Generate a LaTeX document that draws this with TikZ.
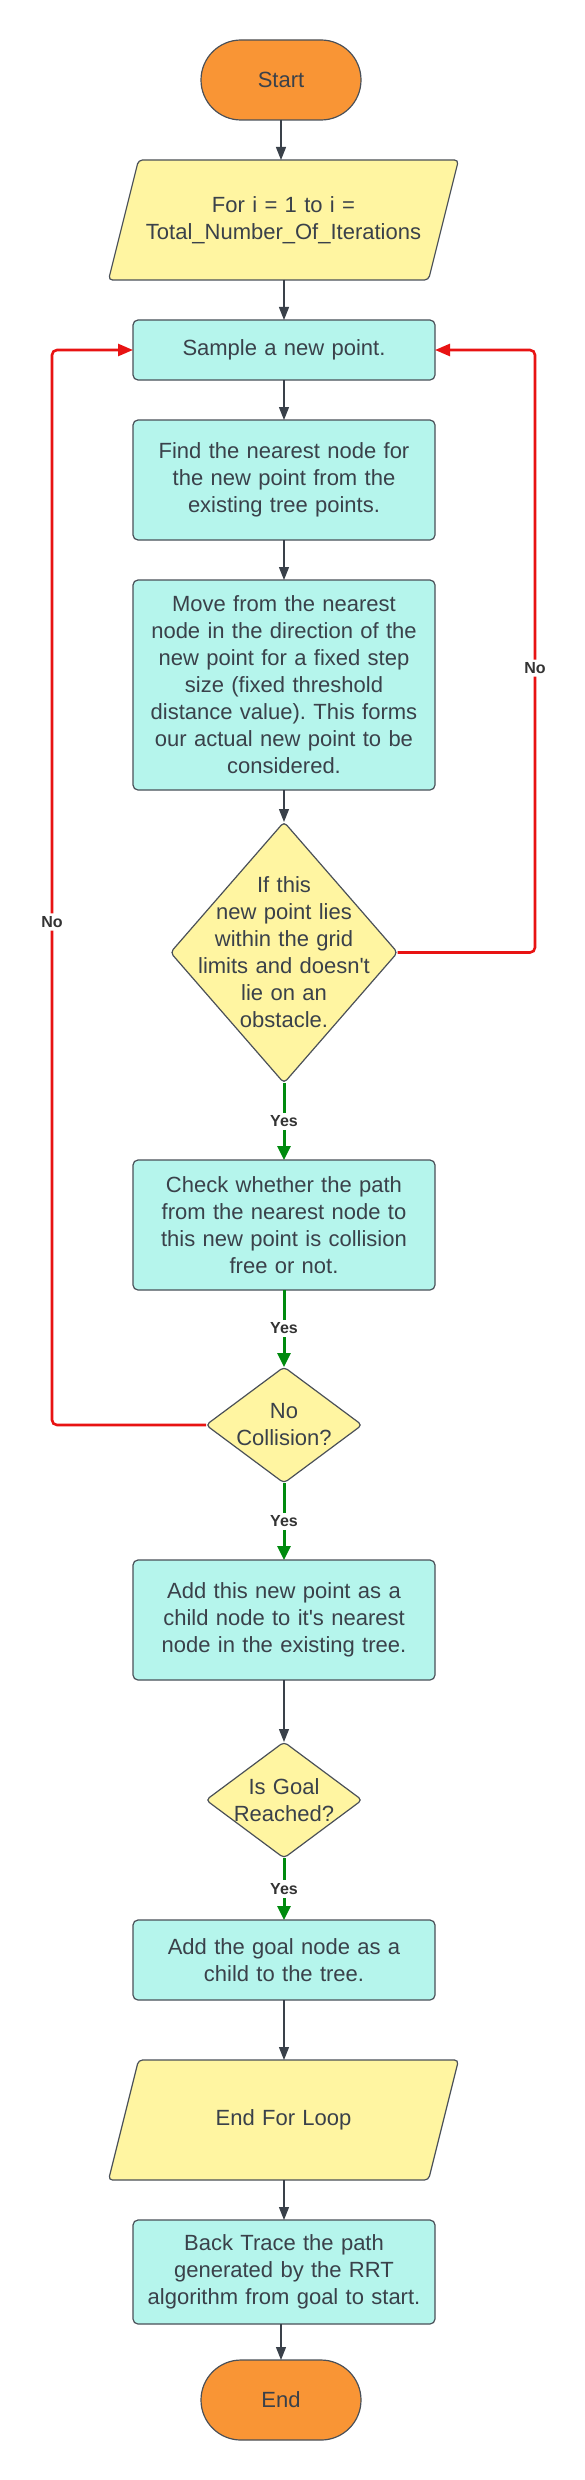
\documentclass[tikz,border=0pt]{standalone}
\usepackage{fontspec}
\setmainfont{Liberation Sans}
\usetikzlibrary{arrows.meta,backgrounds}
\frenchspacing
\definecolor{orangef}{HTML}{F99535}
\definecolor{yellowf}{HTML}{FFF5A1}
\definecolor{cyanf}{HTML}{B5F5EC}
\definecolor{bord}{HTML}{4A5058}
\definecolor{conn}{HTML}{3A414A}
\definecolor{txt}{HTML}{3A414A}
\definecolor{lbl}{HTML}{333333}
\definecolor{redl}{HTML}{E81313}
\definecolor{greenl}{HTML}{008A0E}
\begin{document}
\begin{tikzpicture}[x=1pt,y=-1pt,
  base/.style={font=\fontsize{22pt}{27pt}\selectfont, text=txt, align=center, inner sep=0pt, outer sep=0pt},
  term/.style={base, rectangle, draw=bord, fill=orangef, line width=1.2pt, rounded corners=40pt, minimum width=160pt, minimum height=80pt},
  procbox/.style={base, rectangle, draw=bord, fill=cyanf, line width=1.2pt, rounded corners=5pt, minimum width=302pt, text width=290pt},
  parabox/.style={base, rectangle, minimum width=320pt, minimum height=120pt, text width=300pt},
  decbox/.style={base, rectangle, text width=#1},
  outline/.style={draw=bord, line width=1.2pt, fill=#1, rounded corners=4pt},
  flow/.style={draw=conn, line width=1.3pt, -{Triangle[length=13pt,width=10pt]}},
  yesflow/.style={draw=greenl, line width=3pt, -{Triangle[length=14pt,width=13pt]}},
  noflow/.style={draw=redl, line width=2.6pt, rounded corners=5pt, -{Triangle[length=15pt,width=12pt]}},
  lab/.style={font=\fontsize{16pt}{19pt}\selectfont\bfseries, text=lbl, fill=white, inner sep=3pt}
]
\begin{scope}[on background layer]
  \fill[white] (0,0) rectangle (584,2480);
\end{scope}
\useasboundingbox (0,0) rectangle (584,2480);

% nodes
\node[term] (start) at (281,80) {Start};
\node[parabox] (for) at (283.5,220) {For i = 1 to i =\\Total\_Number\_Of\_Iterations};
\node[procbox, minimum height=60pt] (sample) at (284,350) {Sample a new point.};
\node[procbox, minimum height=120pt] (find) at (284,480) {Find the nearest node for\\the new point from the\\existing tree points.};
\node[procbox, minimum height=210pt] (move) at (284,685) {Move from the nearest\\node in the direction of the\\new point for a fixed step\\size (fixed threshold\\distance value). This forms\\our actual new point to be\\considered.};
\node[decbox=200pt, minimum width=227pt, minimum height=261pt] (d1) at (284,952.5) {If this\\new point lies\\within the grid\\limits and doesn\textquotesingle t\\lie on an\\obstacle.};
\node[procbox, minimum height=130pt] (check) at (284,1225) {Check whether the path\\from the nearest node to\\this new point is collision\\free or not.};
\node[decbox=130pt, minimum width=156pt, minimum height=116pt] (d2) at (284,1425) {No\\Collision?};
\node[procbox, minimum height=120pt] (add) at (284,1620) {Add this new point as a\\child node to it\textquotesingle s nearest\\node in the existing tree.};
\node[decbox=130pt, minimum width=156pt, minimum height=116pt] (d3) at (284,1800) {Is Goal\\Reached?};
\node[procbox, minimum height=80pt] (goal) at (284,1960) {Add the goal node as a\\child to the tree.};
\node[parabox] (endfor) at (283.5,2120) {End For Loop};
\node[procbox, minimum height=104pt] (back) at (284,2272) {Back Trace the path\\generated by the RRT\\algorithm from goal to start.};
\node[term] (end) at (281,2400) {End};

% outlines of parallelograms and diamonds
\begin{scope}[on background layer]
  \path[outline=yellowf] ([xshift=15pt]for.north west) -- ([xshift=15pt]for.north east) -- ([xshift=-15pt]for.south east) -- ([xshift=-15pt]for.south west) -- cycle;
  \path[outline=yellowf] ([xshift=15pt]endfor.north west) -- ([xshift=15pt]endfor.north east) -- ([xshift=-15pt]endfor.south east) -- ([xshift=-15pt]endfor.south west) -- cycle;
  \path[outline=yellowf] (d1.north) -- (d1.east) -- (d1.south) -- (d1.west) -- cycle;
  \path[outline=yellowf] (d2.north) -- (d2.east) -- (d2.south) -- (d2.west) -- cycle;
  \path[outline=yellowf] (d3.north) -- (d3.east) -- (d3.south) -- (d3.west) -- cycle;
\end{scope}

% connectors
\draw[flow] (start.south) -- (start.south |- for.north);
\draw[flow] (for.south -| sample.north) -- (sample.north);
\draw[flow] (sample.south) -- (find.north);
\draw[flow] (find.south) -- (move.north);
\draw[flow] (move.south) -- (d1.north);
\draw[yesflow] (d1.south) -- node[lab, midway] {Yes} (check.north);
\draw[yesflow] (check.south) -- node[lab, midway] {Yes} (d2.north);
\draw[yesflow] (d2.south) -- node[lab, midway] {Yes} (add.north);
\draw[flow] (add.south) -- (d3.north);
\draw[yesflow] (d3.south) -- node[lab, midway] {Yes} (goal.north);
\draw[flow] (goal.south) -- (goal.south |- endfor.north);
\draw[flow] (endfor.south -| back.north) -- (back.north);
\draw[flow] (back.south -| end.north) -- (end.north);

\coordinate (rbend) at (535,350);
\coordinate (lbend) at (52,350);
\draw[noflow] (d1.east) -| node[lab, pos=0.736] {No} (rbend) -- (sample.east);
\draw[noflow] (d2.west) -| node[lab, pos=0.734] {No} (lbend) -- (sample.west);
\end{tikzpicture}
\end{document}
